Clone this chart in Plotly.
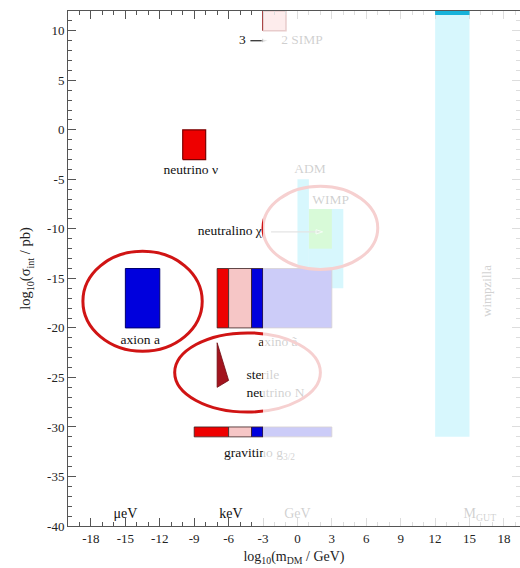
import plotly.graph_objects as go

# ---- candidate regions in (log10 m / GeV, log10 sigma / pb) ----
neutrino_box = [-10, -8, -3, 0]
axion_box = [-15, -12, -20, -14]
axino_edges = [-7, -6, -4, -3, 3]
axino_y = [-20, -14]
gravitino_edges = [-9, -6, -4, -3, 3]
gravitino_y = [-31, -30]
segment_kinds = ["hot", "warm", "cold", "cold"]
simp_box = [-3, -1, 10, 12]
adm_box = [0, 1, -15, -5]
wimp_box = [1, 4, -16, -8]
wimp_core_box = [1, 3, -12, -8]
wimpzilla_box = [12, 15, -31, 12]
wimpzilla_cap = [12, 15, 11.6, 12]
sterile_x = [-7, -7, -6]
sterile_y = [-21.5, -26, -25.3]

# highlighted candidates: centre x, centre y, half-width, half-height
ellipse_cx = [-13.5, 2.0, -4.35]
ellipse_cy = [-17.3, -9.9, -24.5]
ellipse_rx = [5.2, 5.0, 6.35]
ellipse_ry = [5.05, 4.2, 4.0]

# arrows: neutralino -> WIMP, 3 -> 2 SIMP
arrow_neutralino_x = [-2.3, 2.2]
arrow_neutralino_y = [-10.3, -10.3]
arrow_simp_x = [-4.1, -2.5]
arrow_simp_y = [9, 9]

# text labels
labels = ["neutrino ν", "axion a", "axino ã", "gravitino g<sub>3/2</sub>",
          "neutralino χ", "ADM", "WIMP", "3", "2 SIMP"]
label_x = [-9.3, -13.7, -1.7, -3.3, -5.9, 1.1, 2.9, -4.8, 0.4]
label_y = [-4.1, -21.3, -21.5, -32.7, -10.3, -4.0, -7.1, 9, 9]
sterile_label = "sterile<br>neutrino N"
sterile_label_xy = [-4.45, -25.75]
scale_labels = ["μeV", "keV", "GeV", "M<sub>GUT</sub>"]
scale_x = [-15, -5.8, 0, 15.9]
scale_y = [-38.8, -38.8, -38.8, -38.8]

x_ticks = list(range(-18, 19, 3))
y_ticks = list(range(-40, 11, 5))

X_RANGE = [-20, 19.4]
Y_RANGE = [-40, 12]
FADE_FROM = -3

COLORS = {"hot": "#ee0000", "warm": "#f6c6c6", "cold": "#0000dd"}
EDGES = {"hot": "#7a0000", "warm": "#8a6a6a", "cold": "#00006e"}
CYAN = "#3ad6f6"
GREEN = "#3ee43e"
FONT = "Liberation Serif"
LABEL_SIZE = 13.5

fig = go.Figure()


def add_box(box, fill, edge, width=1):
    x0, x1, y0, y1 = box
    fig.add_trace(go.Scatter(
        x=[x0, x1, x1, x0, x0], y=[y0, y0, y1, y1, y0],
        mode="lines", fill="toself", fillcolor=fill,
        line=dict(color=edge, width=width),
        hoverinfo="skip", showlegend=False))


add_box(wimpzilla_box, CYAN, CYAN, 0)
add_box(adm_box, CYAN, CYAN, 0)
add_box(wimp_box, CYAN, CYAN, 0)
add_box(wimp_core_box, GREEN, GREEN, 0)
add_box(simp_box, "#f3a0a0", "#8b0000", 1.5)
add_box(neutrino_box, COLORS["hot"], EDGES["hot"], 1.2)
add_box(axion_box, COLORS["cold"], EDGES["cold"], 1)

for edges, yy in ((axino_edges, axino_y), (gravitino_edges, gravitino_y)):
    for i, kind in enumerate(segment_kinds):
        add_box([edges[i], edges[i + 1], yy[0], yy[1]],
                COLORS[kind], "#3a2020", 0.8)

# sterile neutrino wedge
fig.add_trace(go.Scatter(
    x=sterile_x + sterile_x[:1], y=sterile_y + sterile_y[:1],
    mode="lines", fill="toself", fillcolor="#a3141e",
    line=dict(color="#6e0a10", width=0.8),
    hoverinfo="skip", showlegend=False))

# arrows
for ax_, ay_, col in ((arrow_neutralino_x, arrow_neutralino_y, "#777777"),
                      (arrow_simp_x, arrow_simp_y, "#333333")):
    fig.add_trace(go.Scatter(
        x=ax_, y=ay_, mode="lines+markers",
        line=dict(color=col, width=1.3),
        marker=dict(symbol="arrow", size=[0, 7], angleref="previous",
                    color=col),
        hoverinfo="skip", showlegend=False))

fig.add_trace(go.Scatter(
    x=label_x, y=label_y, text=labels, mode="text",
    textfont=dict(family=FONT, size=LABEL_SIZE, color="#111111"),
    hoverinfo="skip", showlegend=False))
fig.add_trace(go.Scatter(
    x=[sterile_label_xy[0]], y=[sterile_label_xy[1]], text=[sterile_label],
    mode="text", textposition="middle right",
    textfont=dict(family=FONT, size=LABEL_SIZE, color="#111111"),
    hoverinfo="skip", showlegend=False))
fig.add_trace(go.Scatter(
    x=scale_x, y=scale_y, text=scale_labels, mode="text",
    textfont=dict(family=FONT, size=14, color="#111111"),
    hoverinfo="skip", showlegend=False))

shapes = []
for cx, cy, rx, ry in zip(ellipse_cx, ellipse_cy, ellipse_rx, ellipse_ry):
    shapes.append(dict(type="circle", xref="x", yref="y",
                       x0=cx - rx, x1=cx + rx, y0=cy - ry, y1=cy + ry,
                       line=dict(color="#d01414", width=3), layer="above"))
# washed-out region for heavier masses
shapes.append(dict(type="rect", xref="x", yref="paper",
                   x0=FADE_FROM, x1=X_RANGE[1], y0=0, y1=1,
                   fillcolor="rgba(255,255,255,0.8)", line=dict(width=0),
                   layer="above"))
shapes.append(dict(type="rect", xref="x", yref="y",
                   x0=wimpzilla_cap[0], x1=wimpzilla_cap[1],
                   y0=wimpzilla_cap[2], y1=wimpzilla_cap[3],
                   fillcolor="#16b2da", line=dict(width=0), layer="above"))

fig.update_layout(
    width=520, height=568,
    margin=dict(l=68, r=0, t=11, b=42),
    paper_bgcolor="white", plot_bgcolor="white",
    shapes=shapes,
    annotations=[dict(x=16.5, y=-16.3, xref="x", yref="y", text="wimpzilla",
                      textangle=-90, showarrow=False,
                      font=dict(family=FONT, size=13, color="#d2d2d2"))],
    font=dict(family=FONT, color="#222222"),
)

axis_common = dict(
    showgrid=False, zeroline=False, showline=True, linecolor="#555555",
    linewidth=1, ticks="inside", ticklen=8, tickwidth=1, tickcolor="#555555",
    mirror="allticks", tickfont=dict(family=FONT, size=13, color="#222222"),
)
fig.update_xaxes(
    range=X_RANGE, tickvals=x_ticks, ticktext=[str(v) for v in x_ticks],
    minor=dict(dtick=1, tick0=0, ticks="inside", ticklen=4,
               tickcolor="#555555"),
    title=dict(text="log<sub>10</sub>(m<sub>DM</sub> / GeV)", standoff=6,
               font=dict(family=FONT, size=14, color="#222222")),
    automargin=False, **axis_common)
fig.update_yaxes(
    range=Y_RANGE, tickvals=y_ticks, ticktext=[str(v) for v in y_ticks],
    minor=dict(dtick=1, tick0=0, ticks="inside", ticklen=4,
               tickcolor="#555555"),
    title=dict(text="log<sub>10</sub>(σ<sub>int</sub> / pb)", standoff=12,
               font=dict(family=FONT, size=14.5, color="#222222")),
    automargin=False, **axis_common)

fig.write_html("out.html")
